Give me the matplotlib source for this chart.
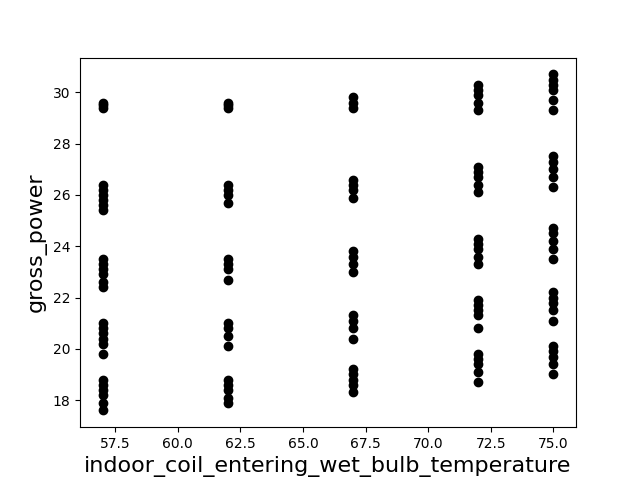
import numpy as np
import matplotlib
matplotlib.use('Agg')
import matplotlib.pyplot as plt

# gross power readings per indoor wet bulb temperature
t57 = [29.6, 29.5, 29.4, 26.4, 26.2, 26.0, 25.8, 25.6, 25.4,
       23.5, 23.3, 23.1, 22.9, 22.6, 22.4, 21.0, 20.8, 20.6, 20.4, 20.2, 19.8,
       18.8, 18.6, 18.4, 18.2, 17.9, 17.6]
t62 = [29.6, 29.5, 29.4, 26.4, 26.2, 26.0, 25.7,
       23.5, 23.3, 23.1, 22.7, 21.0, 20.8, 20.5, 20.1,
       18.8, 18.6, 18.4, 18.1, 17.9]
t67 = [29.8, 29.6, 29.4, 26.6, 26.4, 26.2, 25.9,
       23.8, 23.6, 23.3, 23.0, 21.3, 21.1, 20.8, 20.4,
       19.2, 19.0, 18.8, 18.6, 18.3]
t72 = [30.3, 30.1, 29.9, 29.6, 29.3, 27.1, 26.9, 26.7, 26.4, 26.1,
       24.3, 24.1, 23.9, 23.6, 23.3, 21.9, 21.7, 21.5, 21.3, 20.8,
       19.8, 19.6, 19.4, 19.1, 18.7]
t75 = [30.7, 30.5, 30.3, 30.1, 29.7, 29.3, 27.5, 27.3, 27.0, 26.7, 26.3,
       24.7, 24.5, 24.2, 23.9, 23.5, 22.2, 22.0, 21.8, 21.5, 21.1,
       20.1, 19.9, 19.7, 19.4, 19.0]

wet_bulb = [57, 62, 67, 72, 75]
power = [t57, t62, t67, t72, t75]

x = np.concatenate([[t] * len(p) for t, p in zip(wet_bulb, power)])
y = np.concatenate(power)

plt.figure(figsize=(6.4, 4.8), dpi=100)
plt.scatter(x, y, color='black')
plt.xlabel('indoor_coil_entering_wet_bulb_temperature', fontsize=16)
plt.ylabel('gross_power', fontsize=16)
plt.savefig('out.png')
